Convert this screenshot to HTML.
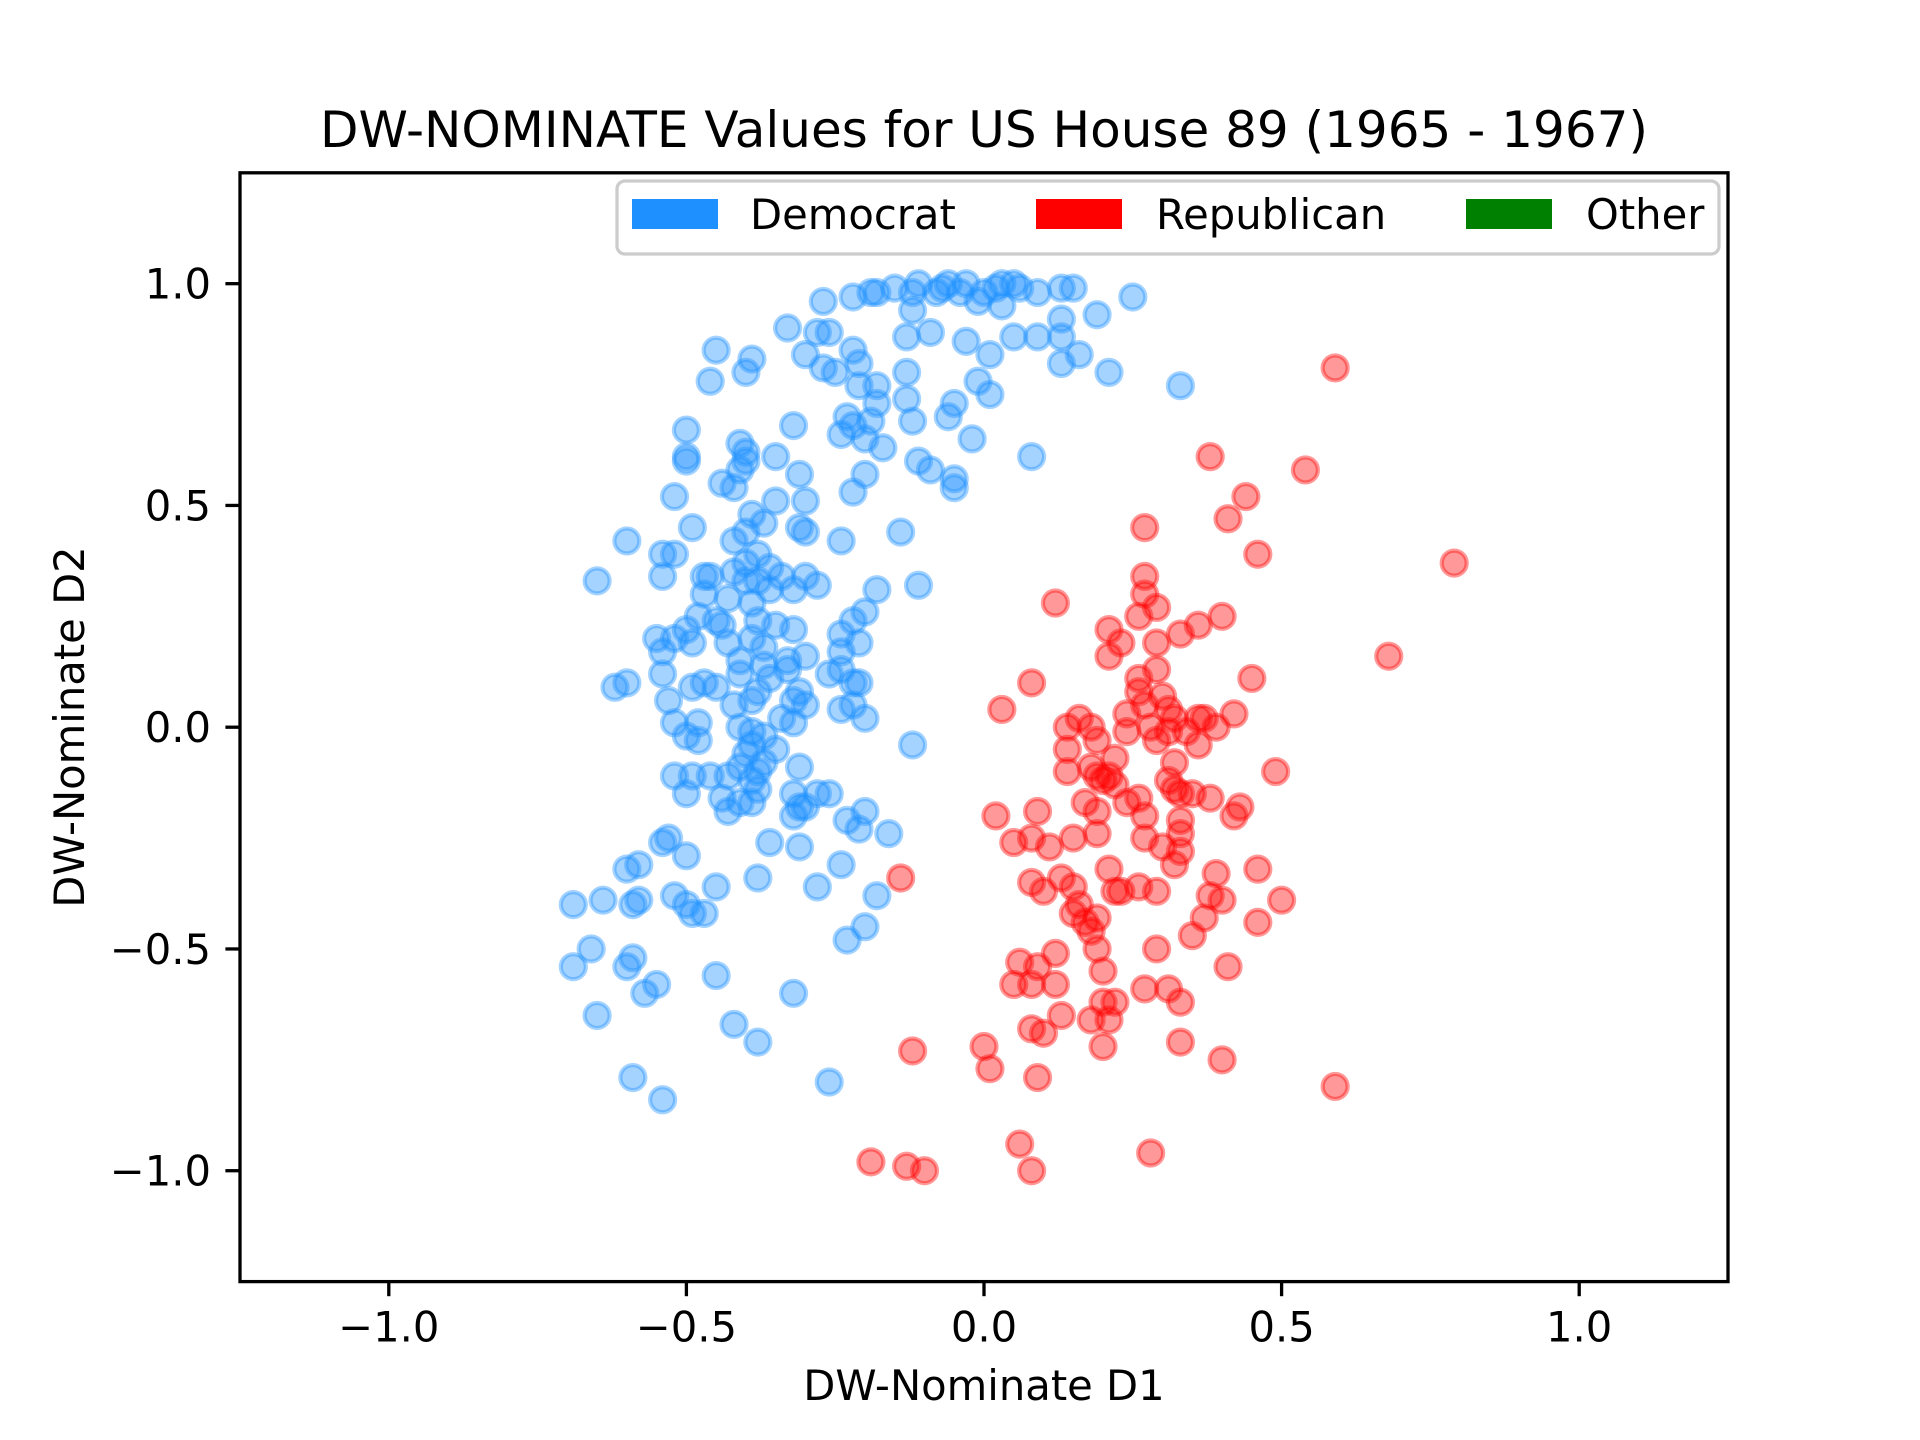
<!DOCTYPE html>
<html><head><meta charset="utf-8"><style>
html,body{margin:0;padding:0;background:#fff;}
svg{display:block;font-family:"DejaVu Sans","Liberation Sans",sans-serif;}
</style></head><body>
<svg id="chart" width="1920" height="1440" viewBox="0 0 1920 1440" xmlns="http://www.w3.org/2000/svg">
<rect x="0" y="0" width="1920" height="1440" fill="#fff"/>
<text x="984" y="147" font-size="50" text-anchor="middle">DW-NOMINATE Values for US House 89 (1965 - 1967)</text>
<g id="marks"></g>
<rect x="240" y="172.8" width="1488" height="1108.8" fill="none" stroke="#000" stroke-width="3.3"/>
<g id="ticks"></g>
<text x="984" y="1400" font-size="41.7" text-anchor="middle">DW-Nominate D1</text>
<text transform="translate(84,727) rotate(-90)" font-size="41.7" text-anchor="middle">DW-Nominate D2</text>
<g>
<rect x="617" y="181" width="1102" height="73" rx="8" fill="#fff" fill-opacity="0.8" stroke="#ccc" stroke-width="3.3"/>
<g>
<rect x="632" y="199" width="86" height="30" fill="#1E90FF"/>
<text x="750" y="229" font-size="41.7">Democrat</text></g>
<g>
<rect x="1036" y="199" width="86" height="30" fill="#FF0000"/>
<text x="1156" y="229" font-size="41.7">Republican</text></g>
<g>
<rect x="1466" y="199" width="86" height="30" fill="#008000"/>
<text x="1586" y="229" font-size="41.7">Other</text></g>
</g>
</svg>
<script>
const xTicks = [-1.0, -0.5, 0.0, 0.5, 1.0];
const yTicks = [-1.0, -0.5, 0.0, 0.5, 1.0];
const xTickLabels = ["\u22121.0", "\u22120.5", "0.0", "0.5", "1.0"];
const yTickLabels = ["\u22121.0", "\u22120.5", "0.0", "0.5", "1.0"];
const demX = [-0.27,-0.22,-0.19,-0.18,-0.15,-0.12,-0.11,-0.08,-0.06,-0.07,-0.04,-0.03,0.0,0.02,0.03,0.05,0.06,0.09,0.13,0.15,0.25,-0.01,0.03,-0.12,0.19,0.13,-0.33,-0.28,-0.26,-0.13,-0.09,0.05,0.09,0.13,-0.03,-0.45,-0.39,-0.22,-0.30,-0.27,-0.21,-0.25,0.16,0.13,0.01,-0.4,-0.13,0.21,-0.18,-0.21,0.33,-0.46,-0.01,0.01,-0.05,-0.13,-0.18,-0.23,-0.22,-0.32,-0.19,-0.12,-0.06,-0.5,-0.5,-0.5,-0.41,-0.4,-0.4,-0.41,-0.24,-0.2,-0.17,-0.02,0.08,-0.35,-0.11,-0.09,-0.2,-0.31,-0.44,-0.42,-0.05,-0.05,-0.22,-0.52,-0.35,-0.3,-0.39,-0.37,-0.49,-0.31,-0.3,-0.14,-0.4,-0.42,-0.24,-0.6,-0.52,-0.54,-0.38,-0.4,-0.36,-0.42,-0.34,-0.3,-0.47,-0.46,-0.54,-0.65,-0.4,-0.38,-0.28,-0.11,-0.18,-0.47,-0.36,-0.32,-0.43,-0.39,-0.2,-0.22,-0.48,-0.45,-0.44,-0.38,-0.35,-0.32,-0.5,-0.52,-0.55,-0.49,-0.43,-0.39,-0.37,-0.24,-0.24,-0.21,-0.3,-0.33,-0.54,-0.41,-0.37,-0.33,-0.24,-0.26,-0.41,-0.36,-0.54,-0.6,-0.62,-0.49,-0.47,-0.45,-0.38,-0.31,-0.22,-0.21,-0.39,-0.32,-0.3,-0.53,-0.42,-0.24,-0.22,-0.2,-0.34,-0.32,-0.52,-0.48,-0.41,-0.39,-0.37,-0.5,-0.48,-0.39,-0.12,-0.35,-0.4,-0.37,-0.31,-0.41,-0.38,-0.49,-0.52,-0.46,-0.43,-0.39,-0.38,-0.32,-0.28,-0.26,-0.5,-0.44,-0.41,-0.39,-0.31,-0.3,-0.43,-0.2,-0.32,-0.23,-0.21,-0.16,-0.53,-0.54,-0.36,-0.31,-0.5,-0.24,-0.6,-0.58,-0.38,-0.28,-0.45,-0.18,-0.52,-0.58,-0.59,-0.64,-0.69,-0.5,-0.49,-0.47,-0.2,-0.23,-0.66,-0.59,-0.69,-0.6,-0.45,-0.55,-0.57,-0.32,-0.42,-0.65,-0.38,-0.59,-0.26,-0.54];
const demY = [0.96,0.97,0.98,0.98,0.99,0.98,1.0,0.98,1.0,0.99,0.98,1.0,0.98,0.99,1.0,1.0,0.99,0.98,0.99,0.99,0.97,0.96,0.95,0.94,0.93,0.92,0.90,0.89,0.89,0.88,0.89,0.88,0.88,0.88,0.87,0.85,0.83,0.85,0.84,0.81,0.82,0.80,0.84,0.82,0.84,0.80,0.80,0.80,0.77,0.77,0.77,0.78,0.78,0.75,0.73,0.74,0.73,0.70,0.68,0.68,0.69,0.69,0.70,0.67,0.61,0.6,0.64,0.62,0.60,0.58,0.66,0.65,0.63,0.65,0.61,0.61,0.60,0.58,0.57,0.57,0.55,0.54,0.56,0.54,0.53,0.52,0.51,0.51,0.48,0.46,0.45,0.45,0.44,0.44,0.44,0.42,0.42,0.42,0.39,0.39,0.39,0.37,0.36,0.35,0.34,0.34,0.34,0.34,0.34,0.33,0.33,0.33,0.32,0.32,0.31,0.30,0.31,0.31,0.29,0.28,0.26,0.24,0.25,0.24,0.23,0.24,0.23,0.22,0.22,0.20,0.2,0.19,0.19,0.2,0.18,0.21,0.17,0.19,0.16,0.15,0.17,0.15,0.14,0.13,0.13,0.12,0.12,0.11,0.12,0.1,0.09,0.09,0.1,0.09,0.08,0.08,0.1,0.1,0.06,0.06,0.05,0.06,0.05,0.04,0.05,0.02,0.02,0.01,0.01,0.01,0.0,-0.01,-0.02,-0.02,-0.03,-0.04,-0.04,-0.05,-0.06,-0.08,-0.09,-0.09,-0.1,-0.11,-0.11,-0.11,-0.11,-0.12,-0.14,-0.15,-0.15,-0.15,-0.15,-0.16,-0.17,-0.17,-0.18,-0.18,-0.19,-0.19,-0.2,-0.21,-0.23,-0.24,-0.25,-0.26,-0.26,-0.27,-0.29,-0.31,-0.32,-0.31,-0.34,-0.36,-0.36,-0.38,-0.38,-0.39,-0.40,-0.39,-0.4,-0.4,-0.42,-0.42,-0.45,-0.48,-0.5,-0.52,-0.54,-0.54,-0.56,-0.58,-0.6,-0.6,-0.67,-0.65,-0.71,-0.79,-0.8,-0.84];
const repX = [0.59,0.38,0.54,0.44,0.41,0.27,0.46,0.79,0.27,0.27,0.12,0.29,0.26,0.4,0.36,0.21,0.33,0.29,0.23,0.21,0.68,0.29,0.45,0.26,0.08,0.26,0.3,0.27,0.03,0.31,0.24,0.32,0.36,0.37,0.16,0.42,0.14,0.18,0.28,0.31,0.34,0.24,0.39,0.19,0.29,0.36,0.14,0.22,0.32,0.18,0.14,0.49,0.19,0.21,0.2,0.22,0.31,0.32,0.33,0.35,0.26,0.24,0.38,0.17,0.43,0.42,0.19,0.09,0.02,0.27,0.33,0.33,0.19,0.08,0.15,0.27,0.05,0.11,0.3,0.33,0.32,0.21,0.39,0.46,0.13,-0.14,0.08,0.26,0.15,0.1,0.22,0.23,0.29,0.38,0.4,0.5,0.16,0.15,0.17,0.19,0.37,0.46,0.18,0.35,0.19,0.29,0.12,0.06,0.09,0.41,0.2,0.05,0.08,0.12,0.27,0.31,0.2,0.33,0.22,0.13,0.18,0.21,0.08,0.1,0.2,0.33,0.0,-0.12,0.4,0.01,0.09,0.59,0.06,0.28,-0.19,-0.13,-0.1,0.08];
const repY = [0.81,0.61,0.58,0.52,0.47,0.45,0.39,0.37,0.34,0.3,0.28,0.27,0.25,0.25,0.23,0.22,0.21,0.19,0.19,0.16,0.16,0.13,0.11,0.11,0.1,0.08,0.07,0.05,0.04,0.04,0.03,0.02,0.02,0.02,0.02,0.03,0.0,0.0,0.0,-0.01,-0.01,-0.01,0.0,-0.03,-0.03,-0.04,-0.05,-0.07,-0.08,-0.09,-0.1,-0.1,-0.11,-0.11,-0.12,-0.13,-0.12,-0.14,-0.15,-0.15,-0.16,-0.17,-0.16,-0.17,-0.18,-0.2,-0.19,-0.19,-0.2,-0.2,-0.21,-0.24,-0.24,-0.25,-0.25,-0.25,-0.26,-0.27,-0.27,-0.28,-0.31,-0.32,-0.33,-0.32,-0.34,-0.34,-0.35,-0.36,-0.36,-0.37,-0.37,-0.37,-0.37,-0.38,-0.39,-0.39,-0.4,-0.42,-0.44,-0.43,-0.43,-0.44,-0.46,-0.47,-0.5,-0.5,-0.51,-0.53,-0.54,-0.54,-0.55,-0.58,-0.58,-0.58,-0.59,-0.59,-0.62,-0.62,-0.62,-0.65,-0.66,-0.66,-0.68,-0.69,-0.72,-0.71,-0.72,-0.73,-0.75,-0.77,-0.79,-0.81,-0.94,-0.96,-0.98,-0.99,-1.0,-1.0];

const NS = "http://www.w3.org/2000/svg";
const X0 = 240, X1 = 1728, Y0 = 1281.6, Y1 = 172.8, LO = -1.25, HI = 1.25;
function sx(v){ return X0 + (v - LO) / (HI - LO) * (X1 - X0); }
function sy(v){ return Y0 - (v - LO) / (HI - LO) * (Y0 - Y1); }

const marks = document.getElementById('marks');
function drawSeries(xs, ys, color, name){
  for (let i = 0; i < xs.length; i++){
    const c = document.createElementNS(NS, 'circle');
    c.setAttribute('cx', sx(xs[i]));
    c.setAttribute('cy', sy(ys[i]));
    c.setAttribute('r', 12.5);
    c.setAttribute('fill', color);
    c.setAttribute('fill-opacity', 0.4);
    c.setAttribute('stroke', color);
    c.setAttribute('stroke-opacity', 0.4);
    c.setAttribute('stroke-width', 4.2);
    
    
    marks.appendChild(c);
  }
}
drawSeries(demX, demY, '#1E90FF', 'democrat-point');
drawSeries(repX, repY, '#FF0000', 'republican-point');

const ticks = document.getElementById('ticks');
xTicks.forEach((v, i) => {
  const l = document.createElementNS(NS, 'line');
  l.setAttribute('x1', sx(v)); l.setAttribute('x2', sx(v));
  l.setAttribute('y1', Y0); l.setAttribute('y2', Y0 + 14.6);
  l.setAttribute('stroke', '#000'); l.setAttribute('stroke-width', 3.3);
  
  
  ticks.appendChild(l);
  const t = document.createElementNS(NS, 'text');
  t.setAttribute('x', sx(v)); t.setAttribute('y', Y0 + 60);
  t.setAttribute('font-size', 41.7); t.setAttribute('text-anchor', 'middle');
  t.textContent = xTickLabels[i];
  
  
  ticks.appendChild(t);
});
yTicks.forEach((v, i) => {
  const l = document.createElementNS(NS, 'line');
  l.setAttribute('x1', X0 - 14.6); l.setAttribute('x2', X0);
  l.setAttribute('y1', sy(v)); l.setAttribute('y2', sy(v));
  l.setAttribute('stroke', '#000'); l.setAttribute('stroke-width', 3.3);
  
  
  ticks.appendChild(l);
  const t = document.createElementNS(NS, 'text');
  t.setAttribute('x', X0 - 29); t.setAttribute('y', sy(v) + 15);
  t.setAttribute('font-size', 41.7); t.setAttribute('text-anchor', 'end');
  t.textContent = yTickLabels[i];
  
  
  ticks.appendChild(t);
});
</script>
</body></html>
